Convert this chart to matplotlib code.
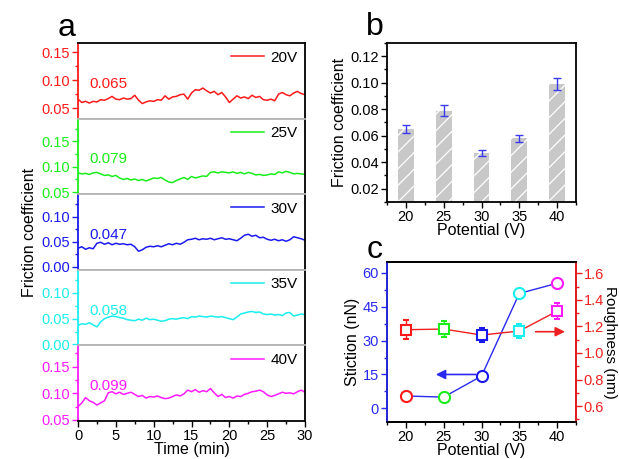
import numpy as np
import matplotlib
matplotlib.use('Agg')
import matplotlib.pyplot as plt
from matplotlib.ticker import MultipleLocator, AutoMinorLocator, FormatStrFormatter

plt.rcParams['font.family'] = ['Liberation Sans', 'DejaVu Sans']
plt.rcParams['hatch.color'] = 'white'
plt.rcParams['hatch.linewidth'] = 0.9

# ---- data ----
time = np.linspace(0, 30, 61)

f20 = [0.066, 0.060, 0.062, 0.059, 0.062, 0.061, 0.065, 0.064, 0.067, 0.071,
       0.066, 0.065, 0.068, 0.066, 0.067, 0.073, 0.064, 0.058, 0.061, 0.063,
       0.062, 0.065, 0.064, 0.072, 0.066, 0.070, 0.071, 0.074, 0.075, 0.066,
       0.077, 0.083, 0.082, 0.086, 0.081, 0.077, 0.080, 0.074, 0.078, 0.070,
       0.060, 0.066, 0.072, 0.068, 0.070, 0.067, 0.073, 0.069, 0.071, 0.065,
       0.064, 0.066, 0.063, 0.075, 0.078, 0.074, 0.072, 0.077, 0.080, 0.076,
       0.074]
f25 = [0.088, 0.086, 0.087, 0.085, 0.088, 0.089, 0.086, 0.083, 0.084, 0.081,
       0.083, 0.078, 0.075, 0.077, 0.074, 0.076, 0.073, 0.075, 0.072, 0.075,
       0.078, 0.077, 0.079, 0.074, 0.070, 0.069, 0.073, 0.076, 0.079, 0.075,
       0.081, 0.078, 0.080, 0.082, 0.081, 0.089, 0.090, 0.088, 0.090, 0.089,
       0.088, 0.090, 0.087, 0.089, 0.086, 0.089, 0.087, 0.084, 0.085, 0.083,
       0.084, 0.086, 0.085, 0.090, 0.088, 0.091, 0.089, 0.086, 0.087, 0.086,
       0.085]
f30 = [0.037, 0.040, 0.035, 0.038, 0.036, 0.047, 0.049, 0.045, 0.048, 0.044,
       0.047, 0.045, 0.046, 0.044, 0.045, 0.040, 0.031, 0.034, 0.039, 0.041,
       0.040, 0.042, 0.040, 0.043, 0.046, 0.044, 0.047, 0.045, 0.049, 0.054,
       0.055, 0.057, 0.054, 0.056, 0.055, 0.057, 0.054, 0.056, 0.058, 0.055,
       0.056, 0.054, 0.052, 0.057, 0.063, 0.065, 0.061, 0.063, 0.058, 0.059,
       0.055, 0.053, 0.055, 0.052, 0.054, 0.051, 0.054, 0.060, 0.058, 0.056,
       0.053]
f35 = [0.037, 0.040, 0.039, 0.042, 0.038, 0.034, 0.044, 0.050, 0.053, 0.055,
       0.054, 0.052, 0.051, 0.048, 0.047, 0.046, 0.049, 0.047, 0.051, 0.048,
       0.049, 0.047, 0.045, 0.046, 0.049, 0.050, 0.049, 0.051, 0.052, 0.050,
       0.054, 0.053, 0.055, 0.054, 0.053, 0.055, 0.054, 0.053, 0.054, 0.052,
       0.050, 0.048, 0.053, 0.059, 0.061, 0.063, 0.064, 0.062, 0.063, 0.059,
       0.058, 0.059, 0.057, 0.058, 0.056, 0.061, 0.062, 0.055, 0.057, 0.059,
       0.058]
f40 = [0.075, 0.082, 0.092, 0.086, 0.083, 0.078, 0.082, 0.086, 0.101, 0.103,
       0.099, 0.102, 0.098, 0.100, 0.102, 0.098, 0.094, 0.096, 0.091, 0.094,
       0.093, 0.095, 0.092, 0.090, 0.091, 0.094, 0.097, 0.095, 0.099, 0.106,
       0.103, 0.107, 0.102, 0.105, 0.103, 0.109, 0.101, 0.094, 0.098, 0.092,
       0.094, 0.091, 0.095, 0.094, 0.098, 0.100, 0.103, 0.104, 0.106, 0.103,
       0.097, 0.094, 0.096, 0.099, 0.102, 0.100, 0.101, 0.099, 0.103, 0.106,
       0.102]

traces = [f20, f25, f30, f35, f40]
labels = ['20V', '25V', '30V', '35V', '40V']
means = ['0.065', '0.079', '0.047', '0.058', '0.099']
colors = ['#ff1a1a', '#1aee1a', '#1a1aee', '#1aeeee', '#ff1aff']
ylims = [(0.031, 0.167), (0.046, 0.195), (-0.006, 0.145), (-0.002, 0.145), (0.048, 0.19)]
yticks = [[0.05, 0.10, 0.15], [0.05, 0.10, 0.15], [0.00, 0.05, 0.10],
          [0.00, 0.05, 0.10], [0.05, 0.10, 0.15]]

potential = [20, 25, 30, 35, 40]
friction = [0.065, 0.079, 0.047, 0.058, 0.099]
friction_err = [0.003, 0.004, 0.0022, 0.0028, 0.0047]

stiction = [5.5, 5.0, 14.3, 50.8, 55.3]
stiction_err = [1.5, 1.5, 1.5, 1.5, 2.0]
roughness = [1.175, 1.18, 1.135, 1.165, 1.315]
roughness_err = [0.07, 0.06, 0.05, 0.05, 0.06]

TICK = 10.5
LAB = 11.5

W, H = 619, 459
fig = plt.figure(figsize=(W / 100, H / 100), dpi=100)
fig.patch.set_facecolor('white')

# ---- panel a ----
a_left, a_right = 78 / W, 305 / W
a_bot, a_top = 1 - 421 / H, 1 - 43 / H
sub_h = (a_top - a_bot) / 5
sep = '#b4b4b4'
for i in range(5):
    ax = fig.add_axes([a_left, a_top - (i + 1) * sub_h, a_right - a_left, sub_h])
    c = colors[i]
    ax.plot(time, traces[i], color=c, lw=1.1, label=labels[i])
    ax.set_xlim(0, 30)
    ax.set_ylim(*ylims[i])
    ax.set_yticks(yticks[i])
    ax.yaxis.set_minor_locator(AutoMinorLocator(2))
    ax.yaxis.set_major_formatter(FormatStrFormatter('%.2f'))
    ax.tick_params(axis='y', which='both', colors=c, labelsize=TICK, direction='out', pad=1.5)
    ax.tick_params(axis='y', which='major', length=4, width=1)
    ax.tick_params(axis='y', which='minor', length=2.5, width=1)
    ax.spines['left'].set_color(c)
    ax.spines['left'].set_linewidth(1.3)
    ax.spines['right'].set_linewidth(1.3)
    ax.spines['top'].set_color('black' if i == 0 else sep)
    ax.spines['bottom'].set_color('black' if i == 4 else sep)
    ax.spines['top'].set_linewidth(1.3)
    ax.spines['bottom'].set_linewidth(1.3)
    ax.text(0.048, 0.46, means[i], transform=ax.transAxes, color=c,
            fontsize=11, va='center', ha='left')
    ax.legend(loc='upper right', frameon=False, fontsize=11, handlelength=2.2,
              handletextpad=0.4, borderaxespad=0.2, borderpad=0.3)
    if i < 4:
        ax.tick_params(axis='x', which='both', bottom=False, labelbottom=False)
    else:
        ax.xaxis.set_major_locator(MultipleLocator(5))
        ax.xaxis.set_minor_locator(AutoMinorLocator(2))
        ax.tick_params(axis='x', which='major', length=4, width=1, labelsize=TICK, pad=2)
        ax.tick_params(axis='x', which='minor', length=2.5, width=1)
        ax.set_xlabel('Time (min)', fontsize=LAB, labelpad=-1)

fig.text(29 / W, (a_top + a_bot) / 2, 'Friction coefficient', rotation=90,
         fontsize=LAB, ha='center', va='center')
fig.text(67 / W, 1 - 28 / H, 'a', fontsize=23, ha='center', va='center')

# ---- panel b ----
axb = fig.add_axes([387 / W, 1 - 202 / H, (576 - 387) / W, (202 - 43) / H])
axb.bar(potential, friction, width=2.1, color='#c8c8c8', edgecolor='white',
        linewidth=0, hatch='//')
axb.errorbar(potential, friction, yerr=friction_err, fmt='none', ecolor='#3a3aee',
             elinewidth=1, capsize=3, capthick=1)
axb.set_xlim(17.5, 42.5)
axb.set_ylim(0.01, 0.13)
axb.xaxis.set_major_locator(MultipleLocator(5))
axb.xaxis.set_minor_locator(AutoMinorLocator(2))
axb.yaxis.set_major_locator(MultipleLocator(0.02))
axb.yaxis.set_minor_locator(AutoMinorLocator(2))
axb.yaxis.set_major_formatter(FormatStrFormatter('%.2f'))
axb.tick_params(which='major', length=4, width=1, labelsize=TICK, pad=2)
axb.tick_params(which='minor', length=2.5, width=1)
for s in axb.spines.values():
    s.set_linewidth(1.3)
axb.set_xlabel('Potential (V)', fontsize=LAB, labelpad=-1)
axb.set_ylabel('Friction coefficient', fontsize=LAB, labelpad=2)
fig.text(375 / W, 1 - 27 / H, 'b', fontsize=23, ha='center', va='center')

# ---- panel c ----
axc = fig.add_axes([387 / W, 1 - 422 / H, (576 - 387) / W, (422 - 262) / H])
axr = axc.twinx()
axc.plot(potential, stiction, color='#2a2aee', lw=1, zorder=2)
axr.plot(potential, roughness, color='#ee2020', lw=1, zorder=2)
for i in range(5):
    axc.errorbar(potential[i], stiction[i], yerr=stiction_err[i], fmt='o',
                 mfc='white', mec=colors[i], ecolor=colors[i], ms=8, mew=1.5,
                 elinewidth=1, capsize=2.5, zorder=3)
    axr.errorbar(potential[i], roughness[i], yerr=roughness_err[i], fmt='s',
                 mfc='white', mec=colors[i], ecolor=colors[i], ms=7.5, mew=1.5,
                 elinewidth=1, capsize=2.5, zorder=3)
axc.set_xlim(17.5, 42.5)
axc.set_ylim(-6, 64.7)
axr.set_ylim(0.48, 1.685)
axc.xaxis.set_major_locator(MultipleLocator(5))
axc.xaxis.set_minor_locator(AutoMinorLocator(2))
axc.yaxis.set_major_locator(MultipleLocator(15))
axc.yaxis.set_minor_locator(AutoMinorLocator(2))
axr.yaxis.set_major_locator(MultipleLocator(0.2))
axr.yaxis.set_minor_locator(AutoMinorLocator(2))
axr.yaxis.set_major_formatter(FormatStrFormatter('%.1f'))
axc.tick_params(which='major', length=4, width=1, labelsize=TICK, pad=2)
axc.tick_params(which='minor', length=2.5, width=1)
axc.tick_params(axis='y', which='both', colors='#2a2aee')
axr.tick_params(which='major', length=4, width=1, labelsize=TICK, colors='#ee2020', pad=1.5)
axr.tick_params(which='minor', length=2.5, width=1, colors='#ee2020')
for s in axc.spines.values():
    s.set_linewidth(1.3)
for s in axr.spines.values():
    s.set_linewidth(1.3)
axr.spines['left'].set_color('#2a2aee')
axr.spines['right'].set_color('#ee2020')
axc.set_xlabel('Potential (V)', fontsize=LAB, labelpad=-1)
axc.set_ylabel('Stiction (nN)', fontsize=LAB, labelpad=2)
fig.text(610 / W, 1 - 342 / H, 'Roughness (nm)', rotation=-90,
         fontsize=11, ha='center', va='center')

axc.annotate('', xy=(23.6, 15), xytext=(29.6, 15),
             arrowprops=dict(arrowstyle='-|>', color='#2a2aee', lw=1.2,
                             mutation_scale=14))
axr.annotate('', xy=(41.4, 1.16), xytext=(36.8, 1.16),
             arrowprops=dict(arrowstyle='-|>', color='#ee2020', lw=1.2,
                             mutation_scale=14))
fig.text(375 / W, 1 - 250 / H, 'c', fontsize=23, ha='center', va='center')

fig.savefig('out.png', dpi=100)
